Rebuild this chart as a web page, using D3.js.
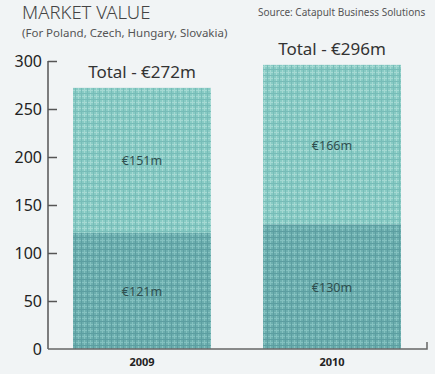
<!DOCTYPE html>
<html>
<head>
<meta charset="utf-8">
<script src="https://cdn.jsdelivr.net/npm/d3@7.9.0/dist/d3.min.js"></script>
<style>
  body { margin: 0; background: #f1f4f5; }
  svg { display: block; font-family: "Noto Sans", "DejaVu Sans", sans-serif; }
</style>
</head>
<body>
<svg id="chart" width="435" height="374"></svg>
<script>
// data
const years = ["2009", "2010"];
const baseValues = [121, 130];
const topValues = [151, 166];
const totals = [272, 296];
const yTicks = [0, 50, 100, 150, 200, 250, 300];

const svg = d3.select("#chart");
const W = 435, H = 374;

svg.append("rect").attr("width", W).attr("height", H).attr("fill", "#f1f4f5");

// textured fills
const defs = svg.append("defs");
function makePattern(id, base, lineA, lineB) {
    const p = defs.append("pattern")
        .attr("id", id)
        .attr("patternUnits", "userSpaceOnUse")
        .attr("width", 6).attr("height", 6);
    p.append("rect").attr("width", 6).attr("height", 6).attr("fill", base);
    p.append("rect").attr("x", 0).attr("y", 0).attr("width", 6).attr("height", 1).attr("fill", lineA);
    p.append("rect").attr("x", 0).attr("y", 0).attr("width", 1).attr("height", 6).attr("fill", lineA);
    p.append("rect").attr("x", 3).attr("y", 0).attr("width", 1).attr("height", 6).attr("fill", lineB);
    p.append("rect").attr("x", 0).attr("y", 3).attr("width", 6).attr("height", 1).attr("fill", lineB);
}
makePattern("texTop", "#88cbc4", "#a5d9d3", "#77bcb8");
makePattern("texBase", "#6caeae", "#84c1c0", "#5c9ea1");

// scales
const x = d3.scaleBand()
    .domain(years)
    .range([47, 427])
    .paddingInner(0.274)
    .paddingOuter(0.137);

const y = d3.scaleLinear()
    .domain([0, 300])
    .range([349, 61]);

// bars
const g = svg.append("g");
years.forEach((yr, i) => {
    const bx = x(yr), bw = x.bandwidth();
    g.append("rect")
        .attr("x", bx).attr("width", bw)
        .attr("y", y(baseValues[i]))
        .attr("height", y(0) - y(baseValues[i]))
        .attr("fill", "url(#texBase)");
    g.append("rect")
        .attr("x", bx).attr("width", bw)
        .attr("y", y(totals[i]))
        .attr("height", y(baseValues[i]) - y(totals[i]))
        .attr("fill", "url(#texTop)");

    g.append("text")
        .attr("x", bx + bw / 2)
        .attr("y", y(baseValues[i] / 2) + 5)
        .attr("text-anchor", "middle")
        .attr("font-size", 12.5)
        .attr("fill", "#2f4f4f")
        .text(`€${baseValues[i]}m`);
    g.append("text")
        .attr("x", bx + bw / 2)
        .attr("y", y(baseValues[i] + topValues[i] / 2) + 5)
        .attr("text-anchor", "middle")
        .attr("font-size", 12.5)
        .attr("fill", "#2f4f4f")
        .text(`€${topValues[i]}m`);

    g.append("text")
        .attr("x", bx + bw / 2)
        .attr("y", y(totals[i]) - 10)
        .attr("text-anchor", "middle")
        .attr("font-size", 17)
        .attr("fill", "#333")
        .text(`Total - €${totals[i]}m`);

    g.append("text")
        .attr("x", bx + bw / 2)
        .attr("y", 366)
        .attr("text-anchor", "middle")
        .attr("font-size", 11)
        .attr("font-weight", "bold")
        .attr("fill", "#222")
        .text(yr);
});

// y axis
const yAxis = svg.append("g")
    .attr("transform", "translate(48,0)")
    .call(d3.axisRight(y).tickValues(yTicks).tickSize(9).tickFormat(""));
yAxis.select(".domain").remove();
yAxis.selectAll(".tick line").attr("stroke", "#555").attr("stroke-width", 1.5);
yAxis.selectAll(".tick").filter(d => d === 0).remove();

svg.append("line")
    .attr("x1", 48).attr("x2", 48)
    .attr("y1", y(300)).attr("y2", y(0))
    .attr("stroke", "#555").attr("stroke-width", 1.5);

yTicks.forEach(t => {
    svg.append("text")
        .attr("x", 42)
        .attr("y", y(t) + 6)
        .attr("text-anchor", "end")
        .attr("font-size", 16)
        .attr("fill", "#222")
        .text(t);
});

// baseline with end tick
svg.append("path")
    .attr("d", `M48,${y(0)}H427V${y(0) - 7}`)
    .attr("fill", "none")
    .attr("stroke", "#666")
    .attr("stroke-width", 1.5);

// titles
svg.append("text")
    .attr("x", 22).attr("y", 19)
    .attr("font-size", 18.5)
    .attr("font-weight", 300)
    .attr("fill", "#444")
    .text("MARKET VALUE");
svg.append("text")
    .attr("x", 22).attr("y", 37)
    .attr("font-size", 11.5)
    .attr("fill", "#555")
    .text("(For Poland, Czech, Hungary, Slovakia)");
svg.append("text")
    .attr("x", 258).attr("y", 16)
    .attr("font-size", 10)
    .attr("fill", "#555")
    .text("Source: Catapult Business Solutions");
</script>
</body>
</html>
